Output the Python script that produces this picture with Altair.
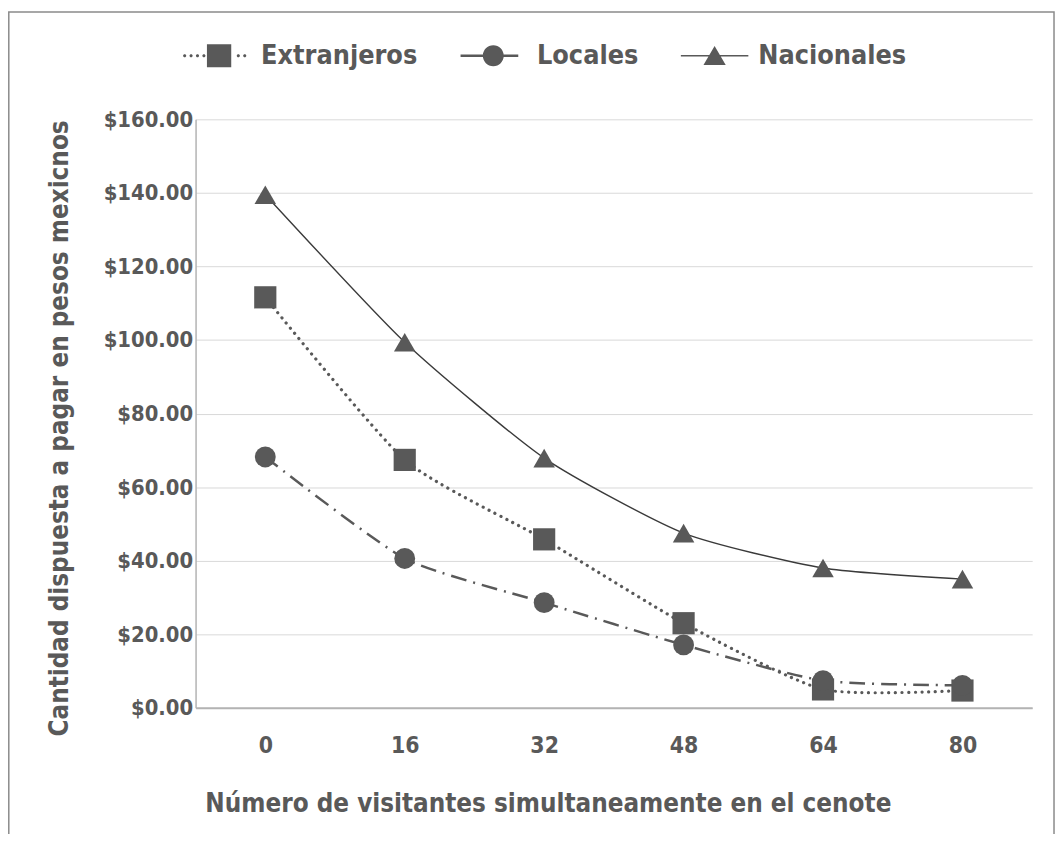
import altair as alt
import pandas as pd

# ---------------- data ----------------
visitantes = ["0", "16", "32", "48", "64", "80"]
series = ["Extranjeros", "Locales", "Nacionales"]
extranjeros = [111.6, 67.4, 45.8, 23.0, 5.0, 4.7]
locales = [68.2, 40.6, 28.6, 17.1, 7.4, 6.1]
nacionales = [139.5, 99.4, 67.9, 47.5, 38.0, 35.0]
y_ticks = [0, 20, 40, 60, 80, 100, 120, 140, 160]

rows = []
for s, vals in zip(series, [extranjeros, locales, nacionales]):
    for v, val in zip(visitantes, vals):
        rows.append({"visitantes": v, "serie": s, "valor": val})
df = pd.DataFrame(rows)

FONT = "DejaVu Sans Condensed, Liberation Sans Narrow, sans-serif"
GRAY = "#595959"


# ---------------- legend symbol paths (unit box -1..1) ----------------
def f(v):
    return f"{v:.3f}".rstrip("0").rstrip(".")


def rect(x0, y0, x1, y1):
    return f"M{f(x0)},{f(y0)}H{f(x1)}V{f(y1)}H{f(x0)}Z"


def circ(cx, cy, r):
    return (f"M{f(cx - r)},{f(cy)}A{f(r)},{f(r)} 0 1,1 {f(cx + r)},{f(cy)}"
            f"A{f(r)},{f(r)} 0 1,1 {f(cx - r)},{f(cy)}Z")


def tri(cx, top, bottom, half):
    return f"M{f(cx)},{f(top)}L{f(cx + half)},{f(bottom)}L{f(cx - half)},{f(bottom)}Z"


dot_r = 0.047
path_ext = "".join(circ(x, 0, dot_r) for x in [-0.97, -0.78, -0.59, -0.40, 0.62, 0.81])
path_ext += rect(-0.31, -0.34, 0.41, 0.34)
path_loc = rect(-0.97, -0.037, -0.28, 0.037) + rect(0.28, -0.037, 0.74, 0.037) + circ(0, 0, 0.31)
path_nac = rect(-1.0, -0.022, 1.0, 0.022) + tri(0, -0.29, 0.27, 0.33)

# ---------------- encodings ----------------
x_enc = alt.X(
    "visitantes:O",
    sort=visitantes,
    scale=alt.Scale(type="point", padding=0.5),
    axis=alt.Axis(
        title="Número de visitantes simultaneamente en el cenote",
        labelAngle=0,
        labelFont=FONT, labelFontSize=23, labelFontWeight="bold", labelColor=GRAY,
        labelPadding=27, ticks=False,
        domainColor="#b3b3b3", domainWidth=2,
        grid=False,
        titleFont=FONT, titleFontSize=26, titleFontWeight="bold", titleColor=GRAY,
        titleX=355, titleY=104, titleBaseline="alphabetic", titleAlign="center",
    ),
)
y_enc = alt.Y(
    "valor:Q",
    scale=alt.Scale(domain=[0, 160], nice=False),
    axis=alt.Axis(
        title="Cantidad dispuesta a pagar en pesos mexicnos",
        values=y_ticks, format="$.2f",
        labelFont=FONT, labelFontSize=22, labelFontWeight="bold", labelColor=GRAY,
        labelPadding=3, ticks=False,
        domainColor="#b3b3b3", domainWidth=1.5,
        grid=True, gridColor="#d9d9d9", gridWidth=1,
        titleFont=FONT, titleFontSize=26, titleFontWeight="bold", titleColor=GRAY,
        titleX=-124, titleY=311, titleAngle=-90, titleBaseline="bottom", titleAlign="center",
    ),
)

base = alt.Chart(df)

line_styles = {
    "Extranjeros": dict(strokeDash=[0.1, 6.6], strokeWidth=3.2, strokeCap="round", color=GRAY),
    "Locales": dict(strokeDash=[16, 7, 2, 7], strokeWidth=2.5, color=GRAY),
    "Nacionales": dict(strokeWidth=1.4, color="#3a3a3a"),
}
point_styles = {
    "Extranjeros": dict(shape="square", size=500),
    "Locales": dict(shape="circle", size=441),
    "Nacionales": dict(shape="triangle-up", size=470),
}

layers = []
for s in series:
    sub = base.transform_filter(alt.datum.serie == s)
    layers.append(
        sub.mark_line(interpolate="cardinal", tension=0.4, **line_styles[s]).encode(x=x_enc, y=y_enc)
    )
    layers.append(
        sub.mark_point(filled=True, opacity=1, color=GRAY, **point_styles[s]).encode(x=x_enc, y=y_enc)
    )

legend_layer = base.transform_filter("false").mark_point(filled=True, opacity=1, color=GRAY).encode(
    shape=alt.Shape(
        "serie:N",
        scale=alt.Scale(domain=series, range=[path_ext, path_loc, path_nac]),
        legend=alt.Legend(
            title=None, orient="none", legendX=-12, legendY=-98,
            direction="horizontal", columns=3, padding=0,
            symbolSize=4624, symbolFillColor=GRAY, symbolStrokeWidth=0, symbolOpacity=1,
            labelFont=FONT, labelFontSize=27, labelFontWeight="bold", labelColor=GRAY,
            labelOffset=10, columnPadding=42, labelLimit=400,
        ),
    )
)

border = alt.Chart(pd.DataFrame({"k": [0]})).mark_rect(
    filled=False, stroke="#8a8a8a", strokeWidth=1.5
).encode(
    x=alt.value(-188.2), x2=alt.value(865), y=alt.value(-108.2), y2=alt.value(760)
)

chart = alt.layer(border, *layers, legend_layer).properties(
    width=843,
    height=593,
    autosize=alt.AutoSizeParams(type="none"),
    padding={"left": 189, "top": 109, "right": 24, "bottom": 124},
).configure_view(stroke=None)

chart.save("out.html", embed_options={"renderer": "svg", "actions": False})
